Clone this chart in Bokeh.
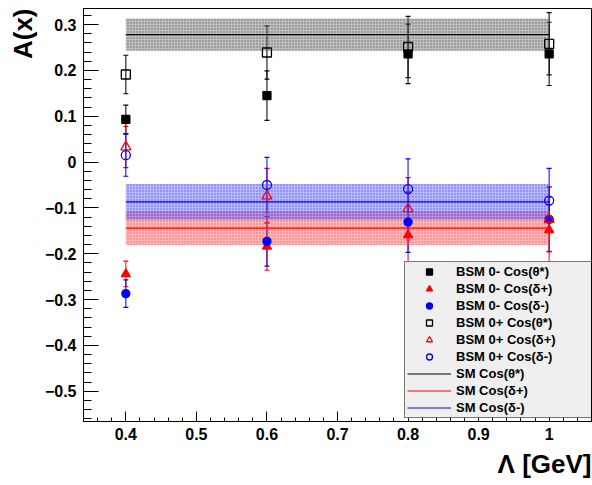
from bokeh.plotting import figure
from bokeh.models import (Range1d, SingleIntervalTicker, Whisker, TeeHead,
                          ColumnDataSource, Legend, LegendItem, Title)
from bokeh.embed import file_html
from bokeh.resources import INLINE

# ---- data ----
lam = [0.4, 0.6, 0.8, 1.0]

bsm0m_theta = [0.093, 0.145, 0.236, 0.236]
bsm0m_theta_err = [0.031, 0.054, 0.065, 0.069]
bsm0m_dplus = [-0.244, -0.184, -0.159, -0.148]
bsm0m_dplus_err = [0.028, 0.052, 0.062, 0.071]
bsm0m_dminus = [-0.287, -0.173, -0.131, -0.125]
bsm0m_dminus_err = [0.030, 0.054, 0.066, 0.070]

bsm0p_theta = [0.191, 0.239, 0.251, 0.258]
bsm0p_theta_err = [0.042, 0.058, 0.067, 0.068]
bsm0p_dplus = [0.033, -0.074, -0.102, -0.125]
bsm0p_dplus_err = [0.045, 0.060, 0.068, 0.071]
bsm0p_dminus = [0.015, -0.050, -0.059, -0.084]
bsm0p_dminus_err = [0.046, 0.060, 0.066, 0.070]

sm_labels = ["SM Cos(θ*)", "SM Cos(δ+)", "SM Cos(δ-)"]
sm_center = [0.278, -0.144, -0.087]
sm_err = [0.035, 0.037, 0.039]
sm_colors = ["black", "red", "blue"]
sm_band_colors = ["#606060", "#ff5050", "#5050ff"]

FONT = "Liberation Sans"

p = figure(width=592, height=485, output_backend="svg", toolbar_location=None,
           x_range=Range1d(0.34, 1.06), y_range=Range1d(-0.566, 0.335),
           min_border_left=83, min_border_right=1, min_border_top=8,
           min_border_bottom=64)
p.xgrid.visible = False
p.ygrid.visible = False
p.outline_line_color = "black"
p.outline_line_width = 1

for ax, maj_in, min_in, stand in ((p.xaxis[0], 10, 4, 6), (p.yaxis[0], 15, 8, 7)):
    ax.ticker = SingleIntervalTicker(interval=0.1, num_minor_ticks=5)
    ax.major_tick_in = maj_in
    ax.major_tick_out = 0
    ax.minor_tick_in = min_in
    ax.minor_tick_out = 0
    ax.major_label_text_font = FONT
    ax.major_label_text_font_style = "bold"
    ax.major_label_text_font_size = "16px"
    ax.major_label_text_color = "black"
    ax.major_label_standoff = stand
    ax.axis_line_color = "black"
    ax.major_tick_line_color = "black"
    ax.minor_tick_line_color = "black"

# ---- SM bands and lines ----
sm_line_renderers = []
for c, e, col, bcol in zip(sm_center, sm_err, sm_colors, sm_band_colors):
    p.quad(left=[lam[0]], right=[lam[-1]], bottom=[c - e], top=[c + e],
           fill_color=bcol, fill_alpha=0.4, line_color=None,
           hatch_pattern="dot", hatch_color=bcol, hatch_alpha=0.9,
           hatch_scale=3, hatch_weight=1)
    r = p.line(x=[lam[0], lam[-1]], y=[c, c], line_color=col, line_width=1.2)
    sm_line_renderers.append(r)

# ---- BSM points ----
series = [
    ("BSM 0- Cos(θ*)", bsm0m_theta, bsm0m_theta_err, "black", "square", True, 8),
    ("BSM 0- Cos(δ+)", bsm0m_dplus, bsm0m_dplus_err, "red", "triangle", True, 9),
    ("BSM 0- Cos(δ-)", bsm0m_dminus, bsm0m_dminus_err, "blue", "circle", True, 8),
    ("BSM 0+ Cos(θ*)", bsm0p_theta, bsm0p_theta_err, "black", "square", False, 9),
    ("BSM 0+ Cos(δ+)", bsm0p_dplus, bsm0p_dplus_err, "red", "triangle", False, 10),
    ("BSM 0+ Cos(δ-)", bsm0p_dminus, bsm0p_dminus_err, "blue", "circle", False, 9),
]

items = []
for label, vals, errs, col, marker, filled, size in series:
    src = ColumnDataSource(dict(
        x=lam, y=vals,
        lo=[v - e for v, e in zip(vals, errs)],
        hi=[v + e for v, e in zip(vals, errs)]))
    w = Whisker(source=src, base="x", upper="hi", lower="lo",
                line_color=col, line_width=1.2, line_alpha=0.85,
                upper_head=TeeHead(size=5, line_color=col, line_width=1.2),
                lower_head=TeeHead(size=5, line_color=col, line_width=1.2))
    p.add_layout(w)
    r = p.scatter("x", "y", source=src, marker=marker, size=size,
                  line_color=col, line_width=1.3,
                  fill_color=col if filled else None)
    items.append(LegendItem(label=label, renderers=[r]))

for lab, r in zip(sm_labels, sm_line_renderers):
    items.append(LegendItem(label=lab, renderers=[r]))

legend = Legend(items=items, location=(321, 3), orientation="vertical",
                label_text_font=FONT, label_text_font_style="bold",
                label_text_font_size="13px", label_text_color="black",
                glyph_width=44, glyph_height=15, label_height=15,
                spacing=2, padding=2, margin=0, label_standoff=5,
                label_width=133,
                border_line_color="black", border_line_width=1.3,
                background_fill_color="#efefef", background_fill_alpha=1)
p.add_layout(legend)

p.add_layout(Title(text="A(x)", align="right", text_font=FONT,
                   text_font_style="bold", text_font_size="26px",
                   text_color="black", standoff=7), "left")
p.add_layout(Title(text="Λ [GeV]", align="right", text_font=FONT,
                   text_font_style="bold", text_font_size="26px",
                   text_color="black", standoff=9), "below")

open("out.html", "w").write(file_html(p, INLINE))
